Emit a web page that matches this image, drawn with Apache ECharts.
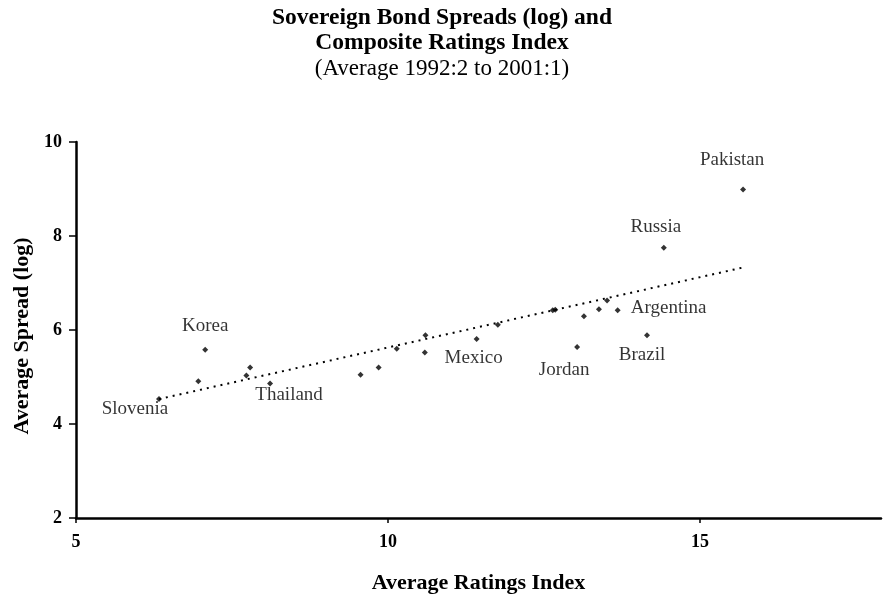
<!DOCTYPE html>
<html>
<head>
<meta charset="utf-8">
<script src="https://cdn.jsdelivr.net/npm/echarts@6/dist/echarts.min.js"></script>
<style>
  html, body { margin: 0; padding: 0; background: #fff; }
  #chart { width: 883px; height: 599px; }
</style>
</head>
<body>
<div id="chart"></div>
<script>
// values
const ratings = [6.33, 6.96, 7.07, 7.73, 7.79, 8.11, 9.56, 9.85, 10.14, 10.59, 10.60, 11.42,
  11.76, 12.64, 12.68, 13.03, 13.14, 13.38, 13.51, 13.68, 14.15, 14.42, 15.69];
const spreads = [4.53, 4.91, 5.58, 5.03, 5.20, 4.86, 5.05, 5.20, 5.60, 5.52, 5.89, 5.81,
  6.11, 6.42, 6.43, 5.64, 6.29, 6.44, 6.63, 6.42, 5.89, 7.75, 8.99];
const countries = ["Slovenia", "", "Korea", "", "", "Thailand", "", "", "", "", "", "Mexico",
  "", "", "", "Jordan", "", "", "", "Argentina", "Brazil", "Russia", "Pakistan"];
const trendX = [6.33, 15.69];
const trendY = [4.53, 7.33];
const xTicks = [5, 10, 15];
const yTicks = [2, 4, 6, 8, 10];

// where each country name sits, relative to its dot (px)
const labelOffset = {
  Slovenia: [-24, 10],
  Korea: [0, -24],
  Thailand: [19, 11],
  Mexico: [-3, 19],
  Jordan: [-13, 23],
  Brazil: [-5, 20],
  Argentina: [51, -2],
  Russia: [-8, -21],
  Pakistan: [-11, -29],
};

const serif = "'Liberation Serif', 'Times New Roman', serif";

const points = ratings.map((r, i) => {
  const name = countries[i];
  const item = { value: [r, spreads[i]], name: name };
  if (name) {
    item.label = {
      show: true,
      position: "inside",
      offset: labelOffset[name],
      formatter: name,
      color: "#000",
      textBorderWidth: 0,
      fontFamily: serif,
      fontSize: 19,
    };
  }
  return item;
});

const chart = echarts.init(document.getElementById("chart"));
chart.setOption({
  animation: false,
  backgroundColor: "#fff",
  title: [
    {
      text: "Sovereign Bond Spreads (log) and\nComposite Ratings Index",
      left: 437,
      top: 0,
      textAlign: "center",
      textStyle: { fontFamily: serif, fontWeight: "bold", fontSize: 23.5, lineHeight: 25, color: "#000" },
    },
    {
      text: "(Average 1992:2 to 2001:1)",
      left: 437,
      top: 51,
      textAlign: "center",
      textStyle: { fontFamily: serif, fontWeight: "normal", fontSize: 23, lineHeight: 25, color: "#000" },
    },
  ],
  grid: { left: 76, right: 2, top: 142, bottom: 77 },
  xAxis: {
    type: "value",
    min: xTicks[0],
    max: 17.9,
    interval: xTicks[1] - xTicks[0],
    name: "Average Ratings Index",
    nameLocation: "middle",
    nameGap: 54,
    nameTextStyle: { fontFamily: serif, fontWeight: "bold", fontSize: 22, color: "#000" },
    splitLine: { show: false },
    axisLine: { onZero: false, lineStyle: { color: "#000", width: 2.5 } },
    axisTick: { length: 5, lineStyle: { color: "#000", width: 1.5 } },
    axisLabel: { showMaxLabel: false, margin: 15, fontFamily: serif, fontWeight: "bold", fontSize: 18, color: "#000" },
  },
  yAxis: {
    type: "value",
    min: yTicks[0],
    max: yTicks[yTicks.length - 1],
    interval: yTicks[1] - yTicks[0],
    name: "Average Spread (log)",
    nameLocation: "middle",
    nameGap: 42,
    nameTextStyle: { fontFamily: serif, fontWeight: "bold", fontSize: 22, color: "#000", padding: [0, 12, 0, 0] },
    splitLine: { show: false },
    axisLine: { onZero: false, lineStyle: { color: "#000", width: 2.5 } },
    axisTick: { length: 7, lineStyle: { color: "#000", width: 1.5 } },
    axisLabel: { margin: 14, fontFamily: serif, fontWeight: "bold", fontSize: 18, color: "#000" },
  },
  series: [
    {
      type: "line",
      data: trendX.map((x, i) => [x, trendY[i]]),
      showSymbol: false,
      lineStyle: { color: "#000", width: 2, type: [2, 5] },
      z: 1,
    },
    {
      type: "scatter",
      data: points,
      symbol: "diamond",
      symbolSize: 6,
      itemStyle: { color: "#000" },
      label: { show: false, fontFamily: serif, fontSize: 19, color: "#000" },
      z: 2,
    },
  ],
});
</script>
</body>
</html>
